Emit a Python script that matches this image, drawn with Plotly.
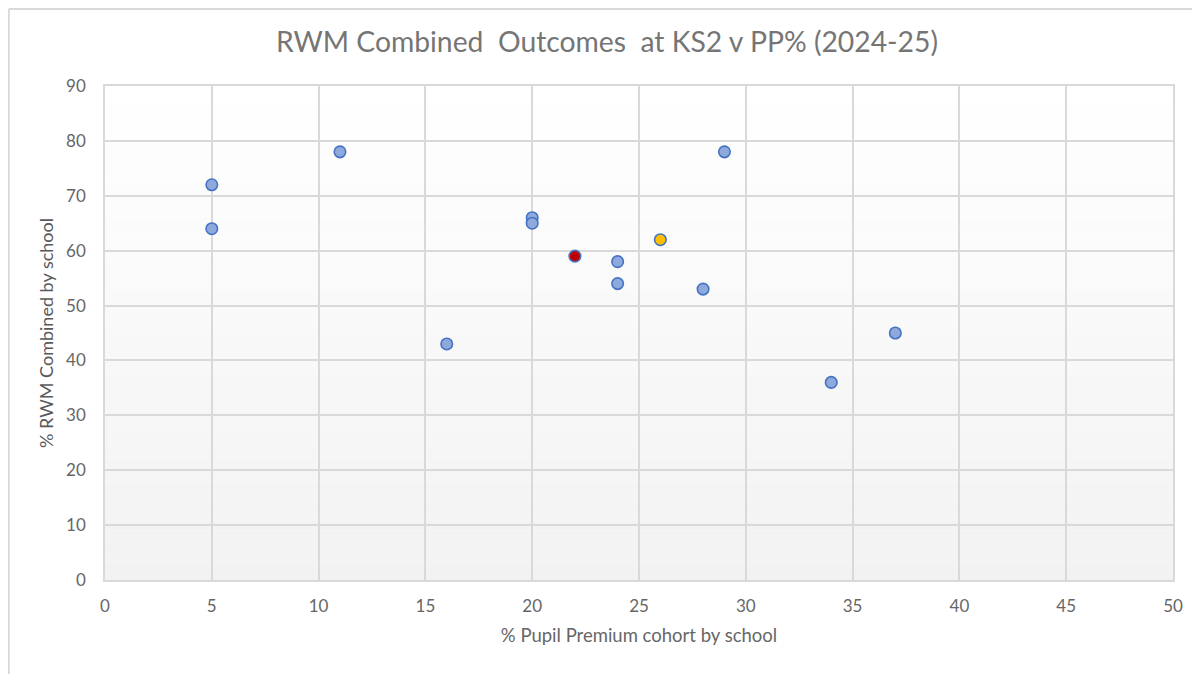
import plotly.graph_objects as go

pp_pct = [5, 5, 11, 16, 20, 20, 24, 24, 28, 29, 34, 37]
rwm_pct = [72, 64, 78, 43, 66, 65, 58, 54, 53, 78, 36, 45]
red_pp = [22]
red_rwm = [59]
yellow_pp = [26]
yellow_rwm = [62]

x_ticks = [0, 5, 10, 15, 20, 25, 30, 35, 40, 45, 50]
y_ticks = [0, 10, 20, 30, 40, 50, 60, 70, 80, 90]

fig = go.Figure()
edge = "#4472C4"
fig.add_trace(go.Scatter(x=pp_pct, y=rwm_pct, mode="markers",
                         marker=dict(size=11.5, color="#8EA9DB", line=dict(color=edge, width=1.6)),
                         showlegend=False))
fig.add_trace(go.Scatter(x=red_pp, y=red_rwm, mode="markers",
                         marker=dict(size=11.5, color="#C00000", line=dict(color=edge, width=1.6)),
                         showlegend=False))
fig.add_trace(go.Scatter(x=yellow_pp, y=yellow_rwm, mode="markers",
                         marker=dict(size=11.5, color="#FFC000", line=dict(color=edge, width=1.6)),
                         showlegend=False))

shapes = []
n = 60
for i in range(n):
    t = (i + 0.5) / n
    v = int(round(242 + (255 - 242) * t))
    shapes.append(dict(type="rect", xref="x domain", yref="y domain",
                       x0=0, x1=1, y0=i / n, y1=(i + 1) / n,
                       fillcolor=f"rgb({v},{v},{v})", line=dict(width=0), layer="below"))
# outer frame
shapes.append(dict(type="line", xref="paper", yref="paper", x0=-0.0901, x1=-0.0901,
                   y0=-0.23, y1=1.156, line=dict(color="#D9D9D9", width=2)))
shapes.append(dict(type="line", xref="paper", yref="paper", x0=-0.0901, x1=1.04,
                   y0=1.156, y1=1.156, line=dict(color="#D9D9D9", width=2)))

font_fam = "Lato, Open Sans, sans-serif"
fig.update_layout(
    width=1200, height=674,
    margin=dict(l=97, r=35, t=78, b=102),
    paper_bgcolor="white", plot_bgcolor="white",
    shapes=shapes,
    title=dict(text="RWM Combined  Outcomes  at KS2 v PP% (2024-25)", x=0.4992, xanchor="center",
               y=0.9496, yanchor="middle",
               font=dict(family=font_fam, size=28.3, color="#757575")),
    font=dict(family=font_fam, color="#595959"),
    xaxis=dict(range=[0, 50], tickvals=x_ticks, showgrid=True, gridcolor="#D9D9D9", gridwidth=1.5,
               zeroline=False, showline=True, linecolor="#D9D9D9", linewidth=1.5, mirror=True,
               tickfont=dict(size=17, color="#666666"), ticks="", ticklabelstandoff=10,
               title=dict(text="% Pupil Premium cohort by school", font=dict(size=18.5, color="#666666"),
                          standoff=14)),
    yaxis=dict(range=[0, 90], tickvals=y_ticks, showgrid=True, gridcolor="#D9D9D9", gridwidth=1.5,
               zeroline=False, showline=True, linecolor="#D9D9D9", linewidth=1.5, mirror=True,
               tickfont=dict(size=17, color="#666666"), ticks="", ticklabelstandoff=14,
               title=dict(text="% RWM Combined by school", font=dict(size=18, color="#595959"),
                          standoff=8)),
)

fig.write_html("out.html")
